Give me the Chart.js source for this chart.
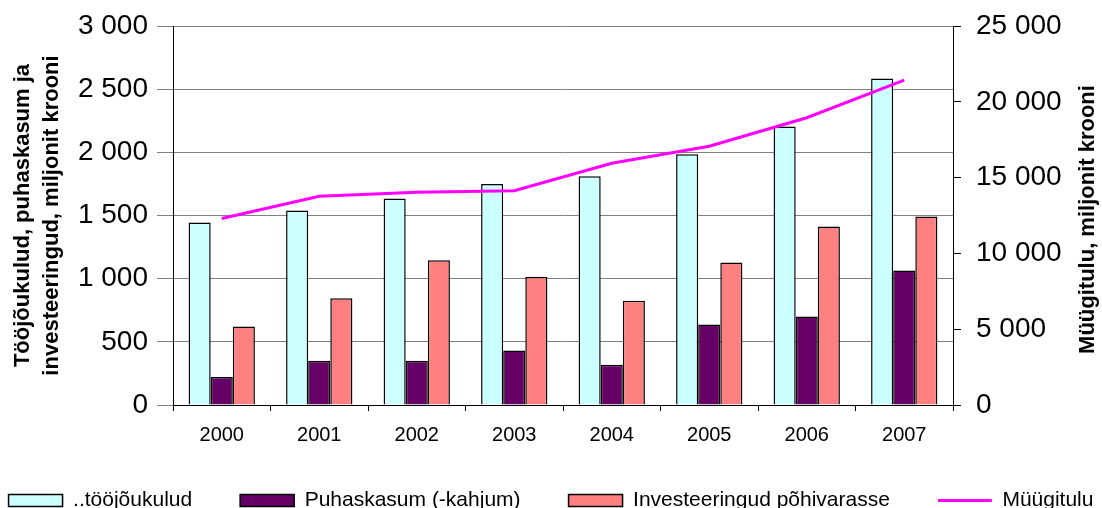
<!DOCTYPE html>
<html>
<head>
<meta charset="utf-8">
<script src="https://cdn.jsdelivr.net/npm/chart.js@4.4.1/dist/chart.umd.min.js"></script>
<style>
  html, body { margin: 0; padding: 0; background: #fff; }
  #wrap { width: 1102px; height: 508px; }
</style>
</head>
<body>
<div id="wrap"><canvas id="chart" width="1102" height="508"></canvas></div>
<script>
'use strict';

// Data
const years = ['2000', '2001', '2002', '2003', '2004', '2005', '2006', '2007'];
const laborCosts = [1445, 1540, 1635, 1750, 1810, 1985, 2205, 2585];
const netProfit = [222, 350, 350, 432, 318, 638, 700, 1065];
const investments = [622, 845, 1145, 1015, 825, 1128, 1412, 1492];
const salesRevenue = [12300, 13770, 14030, 14140, 15950, 17070, 18950, 21430];

const seriesNames = ['..tööjõukulud', 'Puhaskasum (-kahjum)', 'Investeeringud põhivarasse', 'Müügitulu'];
const leftAxisTitle = ['Tööjõukulud, puhaskasum ja', 'investeeringud, miljonit krooni'];
const rightAxisTitle = 'Müügitulu, miljonit krooni';

const FONT = '"Liberation Sans", Arial, sans-serif';
// negative side padding gives the one-row legend room for its wide gaps,
// the axis widths below make up for it so the plot stays where it is
const SIDE = 45;

// thousands separated with a space, like "2 500"
function spaced(v) {
  return String(v).replace(/\B(?=(\d{3})+(?!\d))/g, ' ');
}

// keep the plot box exactly where the layout padding says
function noOverflow(s) {
  s.paddingTop = 0;
  s.paddingBottom = 0;
  s.paddingLeft = 0;
  s.paddingRight = 0;
}

// Chart.js puts a right axis title top-to-bottom, the picture has it bottom-to-top
const rightTitle = {
  id: 'rightTitle',
  afterDraw(chart) {
    const s = chart.scales.y1;
    const ctx = chart.ctx;
    ctx.save();
    ctx.translate(chart.width - 14, (s.top + s.bottom) / 2 + 4);
    ctx.rotate(-Math.PI / 2);
    ctx.font = 'bold 22px ' + FONT;
    ctx.textAlign = 'center';
    ctx.textBaseline = 'middle';
    ctx.fillStyle = '#000';
    ctx.fillText(rightAxisTitle, 0, 0);
    ctx.restore();
  }
};

const barCommon = {
  borderColor: '#000',
  borderWidth: 1.5,
  categoryPercentage: 0.68,
  barPercentage: 1,
  yAxisID: 'y',
  pointStyle: 'rect',
  order: 1
};

const ctx = document.getElementById('chart').getContext('2d');
new Chart(ctx, {
  type: 'bar',
  data: {
    labels: years,
    datasets: [
      Object.assign({ label: seriesNames[0], data: laborCosts, backgroundColor: '#CCFFFF' }, barCommon),
      Object.assign({ label: seriesNames[1], data: netProfit, backgroundColor: '#660066' }, barCommon),
      Object.assign({ label: seriesNames[2], data: investments, backgroundColor: '#FF8080' }, barCommon),
      {
        type: 'line',
        label: seriesNames[3],
        data: salesRevenue,
        yAxisID: 'y1',
        borderColor: '#FF00FF',
        backgroundColor: '#FF00FF',
        borderWidth: 3,
        tension: 0,
        pointRadius: 0,
        pointStyle: 'line',
        fill: false,
        order: 0
      }
    ]
  },
  options: {
    responsive: false,
    animation: false,
    devicePixelRatio: 1,
    layout: { padding: { top: 26, bottom: -13, left: -SIDE, right: -SIDE } },
    plugins: {
      tooltip: { enabled: false },
      legend: {
        position: 'bottom',
        labels: {
          usePointStyle: true,
          pointStyleWidth: 54,
          boxHeight: 12,
          padding: 48,
          color: '#000',
          font: { family: FONT, size: 21 },
          sort: (a, b) => a.datasetIndex - b.datasetIndex
        }
      }
    },
    scales: {
      x: {
        grid: { offset: true, drawOnChartArea: false, tickLength: 6, color: '#000' },
        border: { color: '#000' },
        ticks: { color: '#000', padding: 12, font: { family: FONT, size: 20 } },
        afterFit(s) { s.height = 37; noOverflow(s); }
      },
      y: {
        position: 'left',
        min: 0,
        max: 3000,
        ticks: {
          stepSize: 500,
          color: '#000',
          padding: 9,
          font: { family: FONT, size: 28 },
          callback: v => spaced(v)
        },
        grid: { color: '#808080', tickLength: 16 },
        border: { color: '#000' },
        title: {
          display: true,
          text: leftAxisTitle,
          color: '#000',
          padding: { top: 8 + SIDE, bottom: 0 },
          font: { family: FONT, size: 22, weight: 'bold', lineHeight: 1.32 }
        },
        afterFit(s) { s.width = 173 + SIDE; noOverflow(s); }
      },
      y1: {
        position: 'right',
        min: 0,
        max: 25000,
        ticks: {
          stepSize: 5000,
          color: '#000',
          padding: 15,
          font: { family: FONT, size: 28 },
          callback: v => spaced(v)
        },
        grid: { drawOnChartArea: false, tickLength: 8, color: '#000' },
        border: { color: '#000' },
        afterFit(s) { s.width = 149 + SIDE; noOverflow(s); }
      }
    }
  },
  plugins: [rightTitle]
});
</script>
</body>
</html>
